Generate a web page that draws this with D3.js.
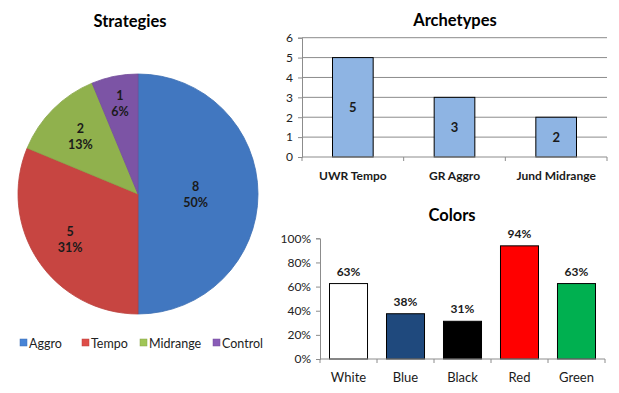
<!DOCTYPE html>
<html><head><meta charset="utf-8">
<script src="https://cdn.jsdelivr.net/npm/d3@7"></script>
<style>
body{margin:0;background:#fff;}
svg{font-family:Lato,"Open Sans",sans-serif;}
</style></head><body>
<svg id="c" width="619" height="393"></svg>
<script>
const strategyNames = ["Aggro","Tempo","Midrange","Control"];
const strategyCounts = [8,5,2,1];
const strategyPct = ["50%","31%","13%","6%"];
const strategyColors = ["#4884d6","#de4d48","#a0c556","#8a5db8"];

const archetypeNames = ["UWR Tempo","GR Aggro","Jund Midrange"];
const archetypeCounts = [5,3,2];
const archetypeTicks = [0,1,2,3,4,5,6];

const colorNames = ["White","Blue","Black","Red","Green"];
const colorValues = [0.625,0.375,0.3125,0.9375,0.625];
const colorLabels = ["63%","38%","31%","94%","63%"];
const colorFills = ["#ffffff","#1f497d","#000000","#ff0000","#00b050"];
const colorTicks = [0,0.2,0.4,0.6,0.8,1.0];

const svg = d3.select("#c");
const defs = svg.append("defs");

// ---------- Pie ----------
const cx = 138, cy = 194, R = 120;
svg.append("text").attr("x",130).attr("y",27).attr("text-anchor","middle")
  .attr("font-weight","bold").attr("font-size",16.5).text("Strategies");
const pie = d3.pie().sort(null).value(d=>d)(strategyCounts);
const arc = d3.arc().innerRadius(0).outerRadius(R);
strategyColors.forEach((c,i)=>{
  const g = defs.append("radialGradient").attr("id","pg"+i)
    .attr("gradientUnits","userSpaceOnUse").attr("cx",cx).attr("cy",cy).attr("r",R);
  g.append("stop").attr("offset","0%").attr("stop-color",c);
  g.append("stop").attr("offset","90%").attr("stop-color",c);
  g.append("stop").attr("offset","100%").attr("stop-color",d3.color(c).darker(0.3));
});
const pg = svg.append("g").attr("transform",`translate(${cx},${cy})`);
pg.selectAll("path").data(pie).join("path")
  .attr("d",arc).attr("fill",(d,i)=>`url(#pg${i})`)
  .attr("stroke",(d,i)=>d3.color(strategyColors[i]).darker(0.5)).attr("stroke-width",0.8);
pg.selectAll("g.lbl").data(pie).join("g").attr("class","lbl")
  .each(function(d,i){
    const span = d.endAngle-d.startAngle;
    const f = span > Math.PI*0.9 ? 0.48 : (span < 0.5 ? 0.77 : 0.68);
    const a = (d.startAngle+d.endAngle)/2;
    const x = Math.sin(a)*R*f, y = -Math.cos(a)*R*f;
    const t = d3.select(this).append("text").attr("text-anchor","middle")
      .attr("font-weight","bold").attr("font-size",12.5).attr("fill","#1a1a1a");
    t.append("tspan").attr("x",x).attr("y",y-3).text(strategyCounts[i]);
    t.append("tspan").attr("x",x).attr("y",y+13).text(strategyPct[i]);
  });
// legend
const legX = [20,82,140,213];
const lg = svg.append("g");
strategyNames.forEach((n,i)=>{
  lg.append("rect").attr("x",legX[i]).attr("y",339).attr("width",7).attr("height",7)
    .attr("fill",strategyColors[i]).attr("stroke",d3.color(strategyColors[i]).darker(0.5)).attr("stroke-width",0.5);
  lg.append("text").attr("x",legX[i]+9).attr("y",347.5).attr("font-size",12.5).attr("fill","#222").text(n);
});

// ---------- Archetypes ----------
const a = {l:302,r:607,t:37.7,b:157};
svg.append("text").attr("x",455).attr("y",26).attr("text-anchor","middle")
  .attr("font-weight","bold").attr("font-size",16.5).text("Archetypes");
const ax = d3.scaleBand().domain(archetypeNames).range([a.l,a.r]).paddingInner(0.6).paddingOuter(0.3);
const axb = d3.scaleBand().domain(archetypeNames).range([a.l,a.r]);
const ay = d3.scaleLinear().domain([0,6]).range([a.b,a.t]);
const ag = svg.append("g");
ag.selectAll("line.grid").data(archetypeTicks.slice(1)).join("line").attr("class","grid")
  .attr("x1",a.l).attr("x2",a.r).attr("y1",d=>ay(d)).attr("y2",d=>ay(d))
  .attr("stroke","#8c8c8c").attr("stroke-width",1);
ag.append("g").attr("transform",`translate(${a.l},0)`)
  .call(d3.axisLeft(ay).tickValues(archetypeTicks).tickFormat(d3.format("d")).tickSize(4).tickPadding(5))
  .call(g=>{g.select(".domain").attr("stroke","#8c8c8c");g.selectAll("line").attr("stroke","#8c8c8c");g.selectAll("text").attr("font-size",12).attr("fill","#222").attr("font-family","Lato");});
ag.selectAll("rect").data(archetypeNames).join("rect")
  .attr("x",d=>ax(d)).attr("width",ax.bandwidth())
  .attr("y",(d,i)=>ay(archetypeCounts[i])).attr("height",(d,i)=>a.b-ay(archetypeCounts[i]))
  .attr("fill","#8eb4e3").attr("stroke","#000").attr("stroke-width",1);
ag.append("line").attr("x1",a.l).attr("x2",a.r).attr("y1",a.b).attr("y2",a.b).attr("stroke","#8c8c8c");
ag.selectAll("line.xt").data(d3.range(archetypeNames.length+1)).join("line").attr("class","xt")
  .attr("x1",i=>a.l+i*axb.step()).attr("x2",i=>a.l+i*axb.step()).attr("y1",a.b).attr("y2",a.b+4).attr("stroke","#8c8c8c");
ag.selectAll("text.vl").data(archetypeNames).join("text").attr("class","vl")
  .attr("x",d=>ax(d)+ax.bandwidth()/2).attr("y",(d,i)=>(ay(archetypeCounts[i])+a.b)/2+4.5)
  .attr("text-anchor","middle").attr("font-weight","bold").attr("font-size",13).attr("fill","#1a1a1a")
  .text((d,i)=>archetypeCounts[i]);
ag.selectAll("text.cl").data(archetypeNames).join("text").attr("class","cl")
  .attr("x",d=>axb(d)+axb.bandwidth()/2).attr("y",179.5)
  .attr("text-anchor","middle").attr("font-weight","bold").attr("font-size",12).attr("fill","#1a1a1a").text(d=>d);

// ---------- Colors ----------
const c = {l:320,r:605,t:238.3,b:359};
svg.append("text").attr("x",452).attr("y",221).attr("text-anchor","middle")
  .attr("font-weight","bold").attr("font-size",16.5).text("Colors");
const cxs = d3.scaleBand().domain(colorNames).range([c.l,c.r]).paddingInner(0.333).paddingOuter(0.1667);
const cxb = d3.scaleBand().domain(colorNames).range([c.l,c.r]);
const cys = d3.scaleLinear().domain([0,1]).range([c.b,c.t]);
const cg = svg.append("g");
cg.append("g").attr("transform",`translate(${c.l},0)`)
  .call(d3.axisLeft(cys).tickValues(colorTicks).tickFormat(d3.format(".0%")).tickSize(4).tickPadding(5))
  .call(g=>{g.select(".domain").attr("stroke","#8c8c8c");g.selectAll("line").attr("stroke","#8c8c8c");g.selectAll("text").attr("font-size",12).attr("fill","#222").attr("font-family","Lato");});
cg.selectAll("rect").data(colorNames).join("rect")
  .attr("x",d=>cxs(d)).attr("width",cxs.bandwidth())
  .attr("y",(d,i)=>cys(colorValues[i])).attr("height",(d,i)=>c.b-cys(colorValues[i]))
  .attr("fill",(d,i)=>colorFills[i]).attr("stroke","#000").attr("stroke-width",1);
cg.append("line").attr("x1",c.l).attr("x2",c.r).attr("y1",c.b).attr("y2",c.b).attr("stroke","#8c8c8c");
cg.selectAll("line.xt").data(d3.range(colorNames.length+1)).join("line").attr("class","xt")
  .attr("x1",i=>c.l+i*cxb.step()).attr("x2",i=>c.l+i*cxb.step()).attr("y1",c.b).attr("y2",c.b+4).attr("stroke","#8c8c8c");
cg.selectAll("text.vl").data(colorNames).join("text").attr("class","vl")
  .attr("x",d=>cxs(d)+cxs.bandwidth()/2).attr("y",(d,i)=>cys(colorValues[i])-8)
  .attr("text-anchor","middle").attr("font-weight","bold").attr("font-size",12).attr("fill","#1a1a1a")
  .text((d,i)=>colorLabels[i]);
cg.selectAll("text.cl").data(colorNames).join("text").attr("class","cl")
  .attr("x",d=>cxb(d)+cxb.bandwidth()/2).attr("y",381.5)
  .attr("text-anchor","middle").attr("font-size",13).attr("fill","#1a1a1a").text(d=>d);
</script></body></html>
